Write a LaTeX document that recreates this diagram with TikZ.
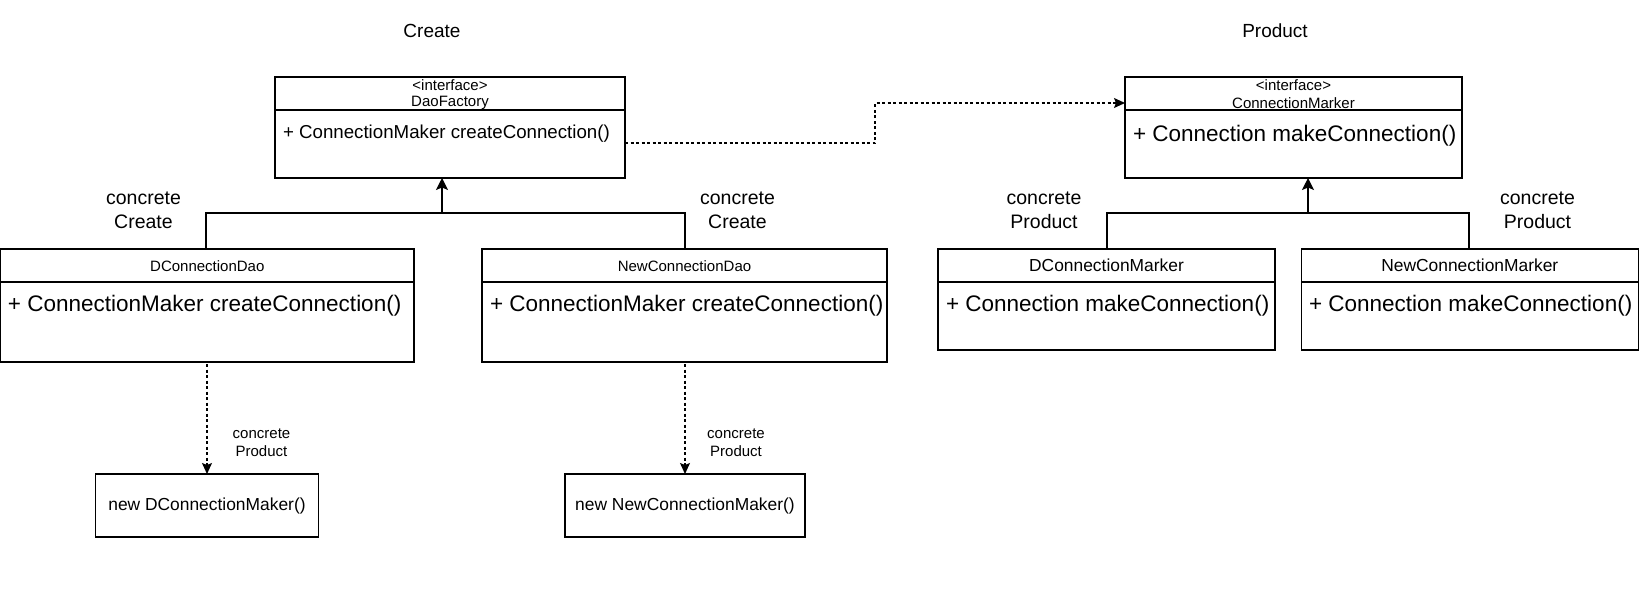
\documentclass[tikz,border=0pt]{standalone}
\usepackage{fontspec}
\setmainfont{Liberation Sans}
\usetikzlibrary{arrows.meta}
\begin{document}
\begin{tikzpicture}[x=1pt,y=-1pt,
  box/.style={draw, line width=1.2pt, inner sep=0pt, outer sep=0pt},
  txt/.style={inner sep=0pt, outer sep=0pt, align=center},
  small/.style={txt, font=\fontsize{15}{18}\selectfont},
  mid/.style={txt, font=\fontsize{17.4}{21}\selectfont},
  lab/.style={txt, font=\fontsize{19.5}{24}\selectfont},
  mem/.style={txt, anchor=base west, font=\fontsize{22.5}{27}\selectfont},
  memsm/.style={txt, anchor=base west, font=\fontsize{18.7}{22}\selectfont},
  sep/.style={line width=1.2pt},
  gen/.style={line width=1.2pt, -{Stealth[length=12pt,width=12pt,inset=2.5pt]}},
  dep/.style={line width=1.2pt, dash pattern=on 3pt off 2.5pt, -{Stealth[length=11pt,width=10pt,inset=2pt]}}
]
\useasboundingbox (0,0) rectangle (1639,600);

% titles
\node[txt, font=\fontsize{19}{23}\selectfont] (tcreate) at (432,31) {Create};
\node[txt, font=\fontsize{19}{23}\selectfont] (tproduct) at (1275,31) {Product};

% DaoFactory
\node[box, minimum width=350pt, minimum height=101pt] (daof) at (450,127.5) {};
\draw[sep] (daof.west |- 0,110) -- (daof.east |- 0,110);
\node[small] (daofs) at (450,85) {<interface>};
\node[small] (daofn) at (450,103) {DaoFactory};
\node[memsm] (daofm) at (283,138) {+ ConnectionMaker createConnection()};

% ConnectionMarker
\node[box, minimum width=337pt, minimum height=101pt] (cm) at (1293.5,127.5) {};
\draw[sep] (cm.west |- 0,110) -- (cm.east |- 0,110);
\node[small] (cms) at (1293.5,85) {<interface>};
\node[small] (cmn) at (1293.5,103) {ConnectionMarker};
\node[mem] (cmm) at (1133,141) {+ Connection makeConnection()};

% DConnectionDao
\node[box, minimum width=413.4pt, minimum height=113pt] (dcd) at (207.3,305.5) {};
\draw[sep] (dcd.west |- 0,282) -- (dcd.east |- 0,282);
\node[small] (dcdn) at (207.3,266.5) {DConnectionDao};
\node[mem] (dcdm) at (8,311) {+ ConnectionMaker createConnection()};

% NewConnectionDao
\node[box, minimum width=405pt, minimum height=113pt] (ncd) at (684.5,305.5) {};
\draw[sep] (ncd.west |- 0,282) -- (ncd.east |- 0,282);
\node[small] (ncdn) at (684.5,266.5) {NewConnectionDao};
\node[mem] (ncdm) at (490,311) {+ ConnectionMaker createConnection()};

% DConnectionMarker
\node[box, minimum width=337pt, minimum height=101pt] (dcm) at (1106.5,299.5) {};
\draw[sep] (dcm.west |- 0,282) -- (dcm.east |- 0,282);
\node[mid] (dcmn) at (1106.5,265.5) {DConnectionMarker};
\node[mem] (dcmm) at (946,311) {+ Connection makeConnection()};

% NewConnectionMarker
\node[box, minimum width=337pt, minimum height=101pt] (ncm) at (1469.8,299.5) {};
\draw[sep] (ncm.west |- 0,282) -- (ncm.east |- 0,282);
\node[mid] (ncmn) at (1469.8,265.5) {NewConnectionMarker};
\node[mem] (ncmm) at (1309,311) {+ Connection makeConnection()};

% product instances
\node[box, minimum width=223pt, minimum height=63pt, mid] (dmk) at (207,505.5) {new DConnectionMaker()};
\node[box, minimum width=240pt, minimum height=63pt, mid] (nmk) at (685,505.5) {new NewConnectionMaker()};

% labels
\node[lab] (lc1) at (143.5,210) {concrete\\Create};
\node[lab] (lc2) at (737.5,210) {concrete\\Create};
\node[lab] (lp1) at (1044,210) {concrete\\Product};
\node[lab] (lp2) at (1537.5,210) {concrete\\Product};
\node[small] (sp1) at (261.5,443) {concrete\\Product};
\node[small] (sp2) at (736,443) {concrete\\Product};

% generalization (create side)
\coordinate (ja) at (206,213);
\coordinate (jb) at (685,213);
\coordinate (jm) at (442,213);
\draw[sep] (dcd.north -| ja) -- (ja) -- (jb) -- (ncd.north -| jb);
\draw[gen] (jm) -- (daof.south -| jm);

% generalization (product side)
\coordinate (ka) at (1107,213);
\coordinate (kb) at (1469,213);
\coordinate (km) at (1308,213);
\draw[sep] (dcm.north -| ka) -- (ka) -- (kb) -- (ncm.north -| kb);
\draw[gen] (km) -- (cm.south -| km);

% dependency DaoFactory -> ConnectionMarker
\coordinate (d1) at (875,143);
\coordinate (d2) at (875,103);
\draw[dep] (daof.east |- d1) -- (d1) -- (d2) -- (cm.west |- d2);

% dependency Dao -> product instance
\draw[dep, shorten <=2pt] (dcd.south -| dmk.north) -- (dmk.north);
\draw[dep, shorten <=2pt] (ncd.south -| nmk.north) -- (nmk.north);
\end{tikzpicture}
\end{document}
